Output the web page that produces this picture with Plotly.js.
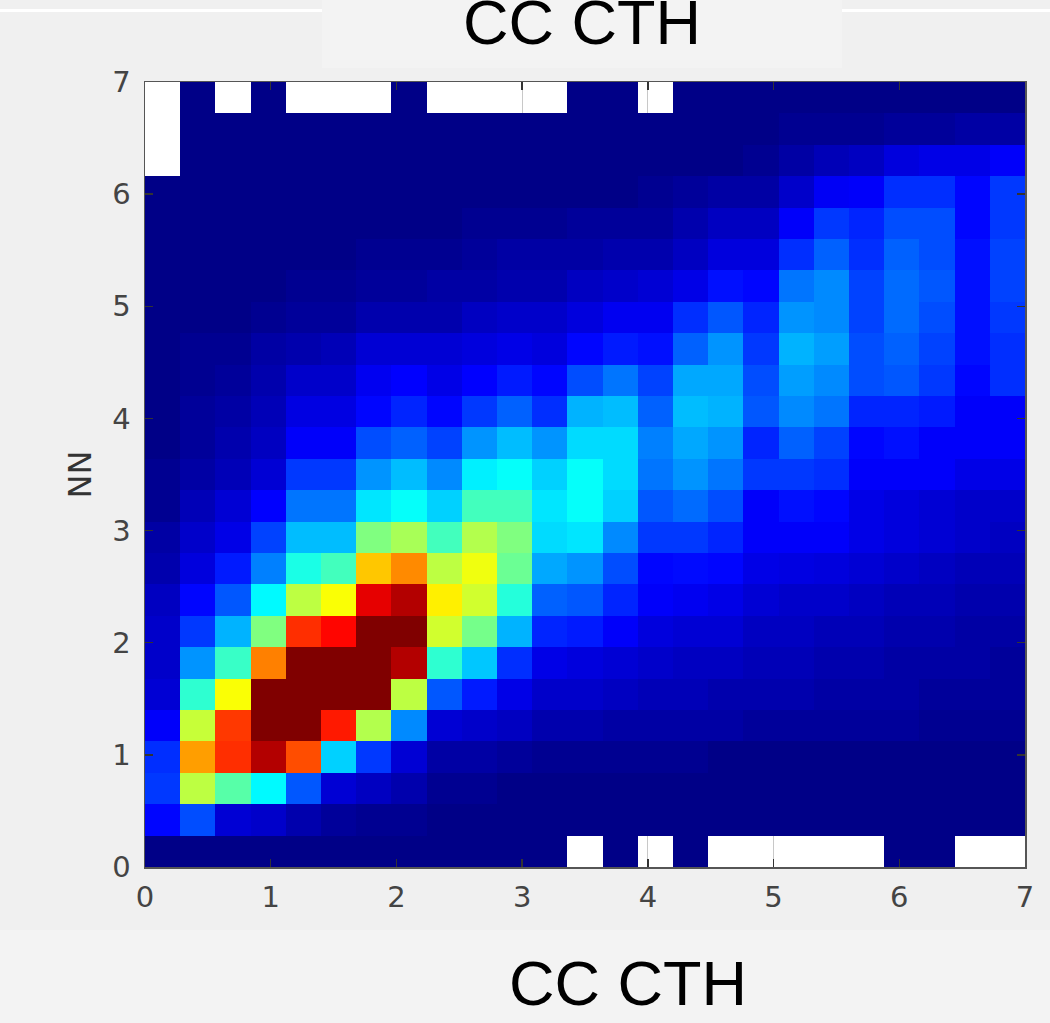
<!DOCTYPE html>
<html>
<head>
<meta charset="utf-8">
<script src="https://cdn.plot.ly/plotly-3.0.1.min.js"></script>
<style>html,body{margin:0;padding:0;background:#f0f0f0;overflow:hidden}#chart{width:1050px;height:1023px}</style>
</head>
<body>
<div id="chart"></div>
<script>
const r00 = [0,0,0,0,0,0,0,0,0,0,0,0,null,0,null,0,null,null,null,null,null,0,0,null,null];
const r01 = [13,20,8,7,4,2,1,1,0,0,0,0,0,0,0,0,0,0,0,0,0,0,0,0,0];
const r02 = [18,56,46,37,21,8,6,4,1,1,0,0,0,0,0,0,0,0,0,0,0,0,0,0,0];
const r03 = [17,72,83,95,80,33,18,8,3,3,2,1,1,1,1,1,0,0,0,0,0,0,0,0,0];
const r04 = [12,57,82,100,100,85,55,26,8,7,6,4,4,3,3,3,3,2,2,2,2,2,1,1,1];
const r05 = [8,42,62,100,100,100,100,56,21,15,10,7,7,6,5,5,4,4,4,3,3,3,2,2,2];
const r06 = [7,27,43,75,100,100,100,95,42,32,17,10,9,8,7,6,6,5,5,4,4,3,3,3,2];
const r07 = [7,18,30,50,83,87,100,100,58,49,30,16,15,12,9,8,8,6,6,5,5,4,4,3,3];
const r08 = [6,13,21,37,56,62,90,95,64,58,41,22,21,16,12,11,10,8,7,7,6,5,5,4,4];
const r09 = [4,9,15,25,40,44,68,74,56,61,48,29,27,20,13,13.5,13,10,9.5,9,8,7,6,5,5];
const r10 = [3,7,10,19,31,31,50,54,44,55,50,34,35,26,18,18,16,12,12,12,10,9,8,7,6];
const r11 = [1,5,8,12.5,24,24,35,38,33,44,44,35,38,33,21,23,20,12,14,13,10,9,8,7,7];
const r12 = [1,3,5,8,18,18,27,31,26,36,38,33,38,34,24,27,24,18,18,17,12,12,12,10,10];
const r13 = [0,2,4,6,12,12,20,22,19,27,31,27,34,34,25,29,27,16,22,19,13,14,12,12,12];
const r14 = [0,2,3,5,9.5,9.5,13,16,13,18,22,17,30,31,22,31,30,21,26,24,16,16,15,12,12];
const r15 = [0,1,2,4,7,7,11,12.5,10,12.5,15,13,20,24,19,29,29,20,28,26,20,21,18,13,17];
const r16 = [0,1,1,3,4,5,8,8,8,9,10,9,13,15,14,22,27,18,30,28,20,22,19,14,17];
const r17 = [0,0,0,1,2,2,4,4,4,6,7,7,9,11,11,17,21,16,27,26,19,23,20,14,18];
const r18 = [0,0,0,0,1,1,2,2,3,3,4,4,6,7,8,10,14,13,24,26,19,23,21,14,19];
const r19 = [0,0,0,0,0,0,1,1,1,2,3,3,3,4,4,6,9,9,17,22,17,22,20,14,19];
const r20 = [0,0,0,0,0,0,0,0,0,1,1,1,2,2,2,4,6,6,12,18,16,20,20,13,18];
const r21 = [0,0,0,0,0,0,0,0,0,0,0,0,0,0,1,2,3,3,7,11.5,12,17,17,13,18];
const r22 = [null,0,0,0,0,0,0,0,0,0,0,0,0,0,0,0,0,1,3,5,6,9,10,10,12];
const r23 = [null,0,0,0,0,0,0,0,0,0,0,0,0,0,0,0,0,0,1,1,1,2,2,3,3];
const r24 = [null,0,null,0,null,null,null,0,null,null,null,null,0,0,null,0,0,0,0,0,0,0,0,0,0];
const rows = [r00,r01,r02,r03,r04,r05,r06,r07,r08,r09,r10,r11,r12,r13,r14,r15,r16,r17,r18,r19,r20,r21,r22,r23,r24];

const tickVals = [0,1,2,3,4,5,6,7];
const tickLabels = ['0','1','2','3','4','5','6','7'];
const binWidth = 0.28;
const xTitle = 'CC CTH';
const yLabel = 'NN';

const jet = [
  [0,'rgb(0,0,135)'],[0.125,'rgb(0,0,255)'],[0.375,'rgb(0,255,255)'],
  [0.625,'rgb(255,255,0)'],[0.875,'rgb(255,0,0)'],[1,'rgb(128,0,0)']
];

const P = {l:145, t:82, w:880, h:785};
const px = v => (v - P.l) / P.w;
const py = v => (P.t + P.h - v) / P.h;
const patch = (x0,y0,x1,y1,c) => ({type:'rect',xref:'paper',yref:'paper',layer:'below',
  x0:px(x0),x1:px(x1),y0:py(y0),y1:py(y1),fillcolor:c,line:{width:0}});

const axis = {
  range:[0,7], tickvals:tickVals, ticktext:tickLabels, ticks:'inside', ticklen:8, tickwidth:1.5,
  tickcolor:'#333', showline:true, linecolor:'#555', linewidth:1.5, mirror:'ticks',
  zeroline:false, tickfont:{family:'DejaVu Sans',size:29,color:'#444'}
};

Plotly.newPlot('chart',[{
  type:'heatmap', z:rows, x0:binWidth/2, dx:binWidth, y0:binWidth/2, dy:binWidth,
  colorscale:jet, zmin:0, zmax:100, showscale:false, hoverongaps:false, xgap:0, ygap:0
}],{
  width:1050, height:1023, autosize:false,
  margin:{l:P.l, r:25, t:P.t, b:156, pad:0},
  paper_bgcolor:'#f0f0f0', plot_bgcolor:'#ffffff',
  xaxis:{...axis, showgrid:true, gridcolor:'#c8c8c8', gridwidth:1, ticklabelstandoff:4},
  yaxis:{...axis, showgrid:false, ticklabelstandoff:7,
    title:{text:yLabel, standoff:11, font:{family:'DejaVu Sans',size:32,color:'#333'}}},
  shapes:[
    patch(322,0,842,68,'#f3f3f3'),
    patch(0,930,1050,1023,'#f3f3f3'),
    patch(0,9,322,12,'#ffffff'),
    patch(842,9,1050,12,'#ffffff')
  ],
  annotations:[
    {text:xTitle, xref:'paper', yref:'paper', x:px(582), y:py(22), xanchor:'center', yanchor:'middle', showarrow:false,
     font:{family:'Liberation Sans',size:63,color:'#000'}},
    {text:xTitle, xref:'paper', yref:'paper', x:px(628), y:py(983), xanchor:'center', yanchor:'middle', showarrow:false,
     font:{family:'Liberation Sans',size:63,color:'#000'}}
  ]
},{displayModeBar:false, staticPlot:true});
</script>
</body>
</html>
